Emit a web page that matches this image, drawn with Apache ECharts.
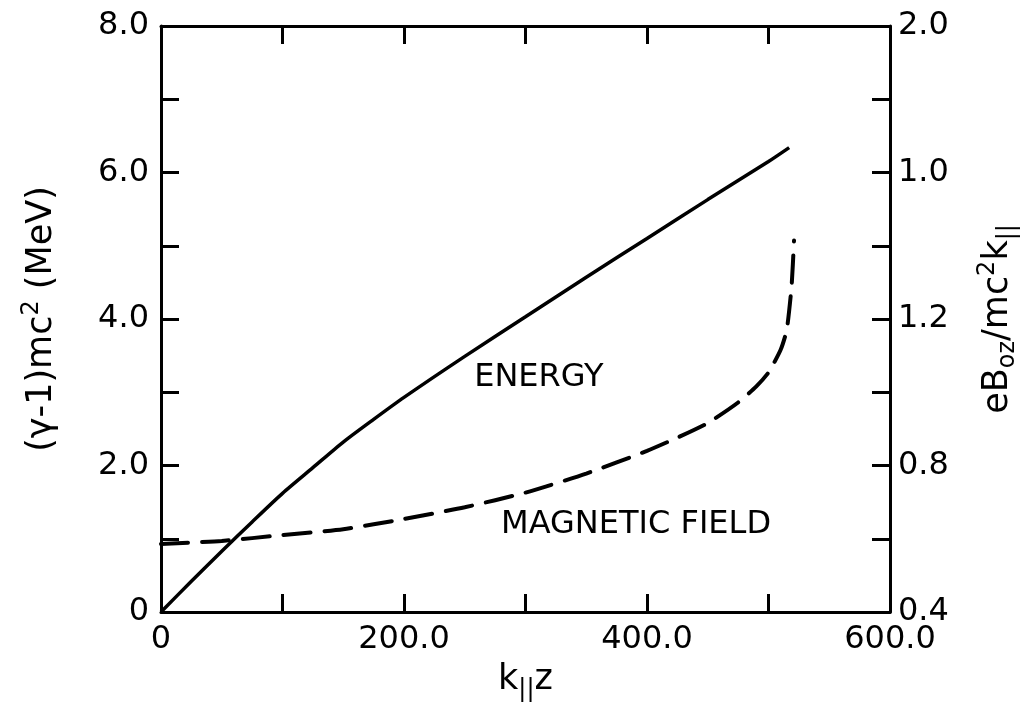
<!DOCTYPE html>
<html>
<head>
<meta charset="utf-8">
<script src="https://cdn.jsdelivr.net/npm/echarts@6/dist/echarts.min.js"></script>
<style>
html,body{margin:0;padding:0;background:#fff;}
#chart{width:1028px;height:719px;}
</style>
</head>
<body>
<div id="chart"></div>
<script>
// ---- data ----
const energyX = [0, 25, 50, 75, 100, 125, 150, 175, 200, 250, 300, 350, 400, 450, 500, 517];
const energyY = [0, 0.42, 0.83, 1.23, 1.62, 1.97, 2.32, 2.63, 2.93, 3.49, 4.03, 4.57, 5.10, 5.63, 6.15, 6.34];

const fieldX = [0, 50, 100, 150, 200, 250, 300, 350, 400, 425, 450, 475, 490, 500, 510, 515, 519, 521];
const fieldY = [0.586, 0.594, 0.610, 0.626, 0.654, 0.686, 0.726, 0.778, 0.840, 0.876, 0.916, 0.972, 1.016, 1.054, 1.116, 1.170, 1.290, 1.414];

const xTickLabels = ['0', '200.0', '400.0', '600.0'];
const leftTickLabels = ['0', '2.0', '4.0', '6.0', '8.0'];
const rightTickLabels = ['0.4', '0.8', '1.2', '1.0', '2.0'];

const annotations = [
  { text: 'ENERGY', x: 311, y: 3.20 },
  { text: 'MAGNETIC FIELD', x: 391, y: 1.19 }
];

// ---- chart ----
const FONT = 'DejaVu Sans';
const black = '#000';
const tickStyle = { color: black, width: 3 };
const TL = 18;
const TICKFONT = 32;

const pair = (xs, ys) => xs.map((x, i) => [x, ys[i]]);

const chart = echarts.init(document.getElementById('chart'), null, { renderer: 'canvas' });

const richBase = {
  a: { fontFamily: FONT, fontSize: 35, lineHeight: 44, color: black },
  sup: { fontFamily: FONT, fontSize: 24, lineHeight: 24, verticalAlign: 'top', color: black },
  sub: { fontFamily: FONT, fontSize: 24, lineHeight: 24, verticalAlign: 'bottom', color: black }
};

chart.setOption({
  animation: false,
  backgroundColor: '#fff',
  grid: { left: 161, right: 137, top: 26, bottom: 107, containLabel: false },
  xAxis: [
    {
      type: 'value', position: 'bottom', min: 0, max: 600, interval: 200,
      axisLine: { show: true, onZero: false, lineStyle: tickStyle },
      axisTick: { show: true, inside: true, length: TL, lineStyle: tickStyle },
      minorTick: { show: true, splitNumber: 2, length: TL, lineStyle: tickStyle },
      splitLine: { show: false },
      axisLabel: {
        margin: 12, color: black, fontFamily: FONT, fontSize: TICKFONT,
        formatter: (v, i) => xTickLabels[i]
      },
      name: '{a|k}{sub|||}{a|z}',
      nameLocation: 'middle', nameGap: 46,
      nameTextStyle: { rich: richBase }
    },
    {
      type: 'value', position: 'top', min: 0, max: 600, interval: 200,
      axisLine: { show: true, onZero: false, lineStyle: tickStyle },
      axisTick: { show: true, inside: true, length: TL, lineStyle: tickStyle },
      minorTick: { show: true, splitNumber: 2, length: TL, lineStyle: tickStyle },
      splitLine: { show: false },
      axisLabel: { show: false }
    }
  ],
  yAxis: [
    {
      type: 'value', position: 'left', min: 0, max: 8, interval: 2,
      axisLine: { show: true, onZero: false, lineStyle: tickStyle },
      axisTick: { show: true, inside: true, length: TL, lineStyle: tickStyle },
      minorTick: { show: true, splitNumber: 2, length: TL, lineStyle: tickStyle },
      splitLine: { show: false },
      axisLabel: {
        margin: 12, color: black, fontFamily: FONT, fontSize: TICKFONT,
        formatter: (v, i) => leftTickLabels[i]
      },
      name: '{a|(γ-1)mc}{sup|2}{a| (MeV)}',
      nameLocation: 'middle', nameGap: 97, nameRotate: 90,
      nameTextStyle: { rich: richBase }
    },
    {
      type: 'value', position: 'right', min: 0.4, max: 2.0, interval: 0.4,
      axisLine: { show: true, onZero: false, lineStyle: tickStyle },
      axisTick: { show: true, inside: true, length: TL, lineStyle: tickStyle },
      minorTick: { show: true, splitNumber: 2, length: TL, lineStyle: tickStyle },
      splitLine: { show: false },
      axisLabel: {
        margin: 8, color: black, fontFamily: FONT, fontSize: TICKFONT,
        formatter: (v, i) => rightTickLabels[i]
      },
      name: '{a|eB}{sub|oz}{a|/mc}{sup|2}{a|k}{sub|||}',
      nameLocation: 'middle', nameGap: 86, nameRotate: 90,
      nameTextStyle: { rich: richBase }
    }
  ],
  series: [
    {
      name: 'ENERGY', type: 'line', xAxisIndex: 0, yAxisIndex: 0,
      data: pair(energyX, energyY),
      smooth: 0.25, showSymbol: false, symbol: 'none',
      lineStyle: { color: black, width: 3.5 }
    },
    {
      name: 'MAGNETIC FIELD', type: 'line', xAxisIndex: 0, yAxisIndex: 1,
      data: pair(fieldX, fieldY),
      smooth: 0.2, showSymbol: false, symbol: 'none',
      lineStyle: { color: black, width: 4, type: [27, 14], cap: 'round' }
    }
  ]
});

// annotation labels placed through the chart's own scales
const graphics = annotations.map(a => {
  const p = chart.convertToPixel({ xAxisIndex: 0, yAxisIndex: 0 }, [a.x, a.y]);
  return {
    type: 'text', x: p[0], y: p[1],
    style: {
      text: a.text, fill: black, font: '32px "DejaVu Sans"',
      align: 'center', verticalAlign: 'middle'
    }
  };
});
chart.setOption({ graphic: graphics });
</script>
</body>
</html>
